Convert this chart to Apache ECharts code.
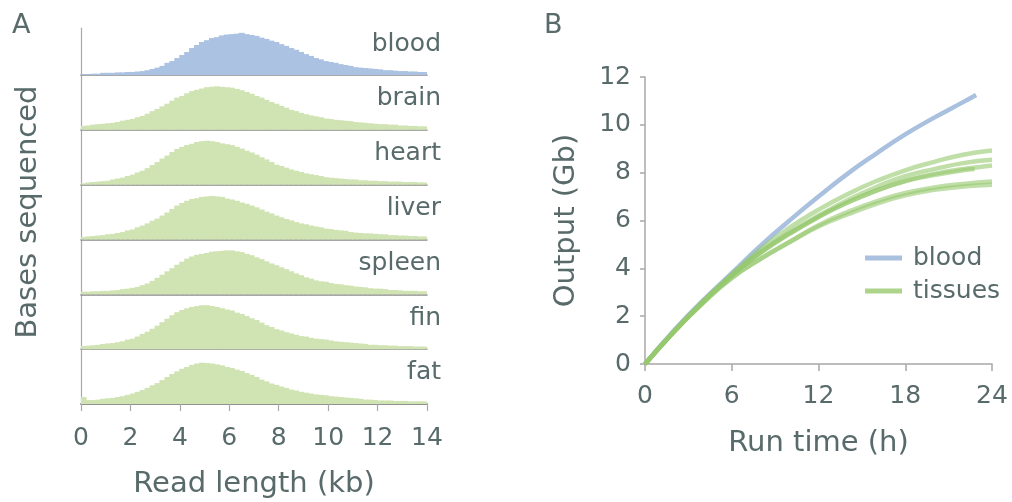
<!DOCTYPE html>
<html>
<head>
<meta charset="utf-8">
<script src="https://cdn.jsdelivr.net/npm/echarts@6/dist/echarts.min.js"></script>
<style>
  html, body { margin: 0; padding: 0; background: #fff; }
  #main { width: 1012px; height: 502px; }
</style>
</head>
<body>
<div id="main"></div>
<script>
// A: read length histograms, 0.2 kb bins from 0 to 14 kb, relative bases sequenced (peak ~100)
const tissueNames = ['blood', 'brain', 'heart', 'liver', 'spleen', 'fin', 'fat']
const bins = Array.from({ length: 70 }, (_, i) => (i * 0.2 + 0.1).toFixed(1))

const bloodHist = [2,2,3,3,5,5,5,6,6,7, 7,8,9,11,14,17,21,28,32,39, 46,53,62,69,76,80,85,87,91,93,
  94,95,97,94,92,90,86,83,79,76, 71,67,62,58,53,48,44,39,36,32, 30,28,25,23,21,18,17,16,15,14,
  13,11,11,10,9,9,8,8,7,7]
const brainHist = [9,10,12,13,14,15,16,18,21,23, 25,29,32,37,43,48,54,60,67,74, 78,84,89,92,95,98,99,100,99,98,
  97,94,91,87,83,78,74,69,64,60, 55,51,46,43,39,36,33,31,29,26, 25,23,22,21,20,18,17,16,15,14,
  13,13,12,12,10,10,9,9,8,8]
const heartHist = [3,5,6,7,8,9,12,14,16,20, 23,28,32,38,45,52,60,67,75,82, 87,91,94,98,100,101,100,98,95,93,
  91,87,83,78,74,69,63,58,52,46, 43,39,35,32,29,26,24,22,20,17, 16,15,14,13,12,12,10,10,9,9,
  8,8,7,7,7,6,6,6,5,5]
const liverHist = [6,7,8,9,10,12,13,15,17,21, 23,28,32,37,43,48,55,62,70,78, 84,89,93,95,98,99,100,99,98,94,
  92,89,85,82,78,74,69,64,60,55, 51,47,44,40,37,35,32,30,28,25, 24,22,21,20,17,16,15,14,14,13,
  12,12,10,10,9,9,8,8,7,7]
const spleenHist = [6,6,7,7,8,8,9,10,12,13, 15,17,21,25,31,38,45,53,60,68, 75,82,87,91,93,95,98,99,100,101,
  101,99,97,93,90,85,81,76,71,67, 62,58,53,48,44,39,36,32,30,29, 26,24,23,21,20,18,17,16,14,13,
  13,12,10,10,9,8,8,8,7,7]
const finHist = [7,8,9,10,12,13,14,16,18,22, 24,29,35,40,47,54,62,70,78,85, 90,94,97,99,101,101,99,97,94,91,
  89,84,81,76,71,67,61,55,51,46, 43,39,36,33,30,29,26,24,23,22, 20,18,17,16,15,14,13,12,10,10,
  9,9,8,8,7,7,7,6,6,6]
const fatHist = [16,9,9,10,12,13,14,16,18,21, 24,28,32,37,43,48,55,62,69,75, 81,85,90,93,95,94,93,91,89,85,
  83,79,76,71,67,62,56,52,47,44, 40,37,33,31,28,26,24,22,21,20, 18,17,16,15,14,13,12,10,10,9,
  8,8,8,7,7,7,6,6,6,6]
const histograms = [bloodHist, brainHist, heartHist, liverHist, spleenHist, finHist, fatHist]

// B: cumulative output (Gb) over run time (h)
const bloodHours = [0, 2, 4, 6, 8, 10, 12, 14, 16, 18, 20, 22, 22.9]
const bloodOutput = [0, 1.4, 2.65, 3.8, 4.95, 6.0, 7.0, 7.95, 8.8, 9.6, 10.3, 10.95, 11.25]
const tissueHours = [0, 2, 4, 6, 8, 10, 12, 14, 16, 18, 20, 22, 24]
const tissueEnd = [24, 24, 24, 22.8, 24, 24]
const tissueOutput = [
  [0, 1.35, 2.6, 3.75, 4.8, 5.7, 6.45, 7.1, 7.65, 8.1, 8.45, 8.75, 8.93],
  [0, 1.35, 2.6, 3.7, 4.7, 5.5, 6.2, 6.85, 7.4, 7.85, 8.15, 8.4, 8.54],
  [0, 1.35, 2.6, 3.7, 4.65, 5.45, 6.15, 6.75, 7.25, 7.65, 7.95, 8.15, 8.3],
  [0, 1.35, 2.6, 3.7, 4.65, 5.45, 6.15, 6.75, 7.25, 7.65, 7.9, 8.1, 8.15],
  [0, 1.35, 2.55, 3.6, 4.4, 5.1, 5.8, 6.35, 6.8, 7.15, 7.38, 7.53, 7.63],
  [0, 1.35, 2.55, 3.6, 4.4, 5.1, 5.75, 6.25, 6.7, 7.05, 7.28, 7.42, 7.49]
]

const font = 'DejaVu Sans'
const textColor = '#586a6a'
const axisGray = '#a8a8a8'
const baseGray = '#8a8a8a'
const blue = '#abc2e2'
const green = '#d0e3b2'

// layout of panel A rows
const rowTop = 28, firstBase = 75, rowStep = 54.83
const unitsPerPx = 2.3

let grid = [], xAxis = [], yAxis = [], series = []
let title = [
  { text: 'A', left: 12, top: 12, padding: 0, textStyle: { fontSize: 27, fontWeight: 'normal', color: textColor, fontFamily: font } },
  { text: 'B', left: 544, top: 12, padding: 0, textStyle: { fontSize: 27, fontWeight: 'normal', color: textColor, fontFamily: font } }
]

tissueNames.forEach((name, i) => {
  let bottom = firstBase + i * rowStep
  let top = i === 0 ? rowTop : bottom - rowStep
  let h = bottom - top
  let c = i === 0 ? blue : green
  grid.push({ left: 81, width: 346, top: top, height: h })
  xAxis.push({
    type: 'category', gridIndex: i, data: bins, boundaryGap: true,
    axisLine: { lineStyle: { color: baseGray, width: 1.5 } },
    axisTick: { show: false }, axisLabel: { show: false }
  })
  yAxis.push({
    type: 'value', gridIndex: i, min: 0, max: h * unitsPerPx,
    axisLine: { show: true, lineStyle: { color: axisGray, width: 1.2 } },
    axisTick: { show: false }, axisLabel: { show: false }, splitLine: { show: false },
    name: i === 3 ? 'Bases sequenced' : '', nameLocation: 'middle', nameGap: 38,
    nameTextStyle: { fontSize: 29, color: textColor, fontFamily: font }
  })
  series.push({
    type: 'bar', xAxisIndex: i, yAxisIndex: i, data: histograms[i],
    barWidth: '125%', silent: true,
    itemStyle: { color: c }
  })
  title.push({
    text: name, right: 571, top: bottom - 32 - 14, padding: 0,
    textStyle: { fontSize: 25, lineHeight: 30, fontWeight: 'normal', color: textColor, fontFamily: font }
  })
})

// tick axis under the bottom histogram
xAxis.push({
  type: 'value', gridIndex: 6, min: 0, max: 14, interval: 2, position: 'bottom',
  axisLine: { lineStyle: { color: baseGray, width: 1.5 } },
  axisTick: { length: 7, lineStyle: { color: axisGray, width: 1.2 } },
  axisLabel: { margin: 22, fontSize: 25, color: textColor, fontFamily: font },
  splitLine: { show: false },
  name: 'Read length (kb)', nameLocation: 'middle', nameGap: 66,
  nameTextStyle: { fontSize: 29, color: textColor, fontFamily: font }
})

// panel B
grid.push({ left: 645, width: 347, top: 77, height: 287 })
let bIdx = grid.length - 1
xAxis.push({
  type: 'value', gridIndex: bIdx, min: 0, max: 24, interval: 6,
  axisLine: { lineStyle: { color: axisGray, width: 1.5 } },
  axisTick: { length: 7, lineStyle: { color: axisGray, width: 1.5 } },
  axisLabel: { margin: 20, fontSize: 25, color: textColor, fontFamily: font },
  splitLine: { show: false },
  name: 'Run time (h)', nameLocation: 'middle', nameGap: 65,
  nameTextStyle: { fontSize: 29, color: textColor, fontFamily: font }
})
yAxis.push({
  type: 'value', gridIndex: bIdx, min: 0, max: 12, interval: 2,
  axisLine: { show: true, lineStyle: { color: axisGray, width: 1.5 } },
  axisTick: { show: true, length: 5, lineStyle: { color: axisGray, width: 1.5 } },
  axisLabel: { margin: 14, fontSize: 25, color: textColor, fontFamily: font },
  splitLine: { show: false },
  name: 'Output (Gb)', nameLocation: 'middle', nameGap: 64,
  nameTextStyle: { fontSize: 29, color: textColor, fontFamily: font }
})
let bx = xAxis.length - 1, by = yAxis.length - 1

series.push({
  name: 'blood', type: 'line', xAxisIndex: bx, yAxisIndex: by, smooth: true,
  showSymbol: false, silent: true,
  data: bloodOutput.map((v, j) => [bloodHours[j], v]),
  itemStyle: { color: '#a9c0df' },
  lineStyle: { width: 4.5, color: '#a9c0df' }
})
tissueOutput.forEach((vals, k) => {
  series.push({
    name: 'tissues', type: 'line', xAxisIndex: bx, yAxisIndex: by, smooth: true,
    showSymbol: false, silent: true,
    data: vals.map((v, j) => [j === vals.length - 1 ? tissueEnd[k] : tissueHours[j], v]),
    itemStyle: { color: 'rgba(160,205,120,0.85)' },
    lineStyle: { width: 4.5, color: 'rgba(150,200,110,0.6)' }
  })
})

let chart = echarts.init(document.getElementById('main'), null, { renderer: 'canvas' })
chart.setOption({
  animation: false,
  backgroundColor: '#fff',
  title: title,
  legend: {
    data: ['blood', 'tissues'], orient: 'vertical', left: 860, top: 240,
    icon: 'rect', itemWidth: 37, itemHeight: 5, itemGap: 7,
    textStyle: { fontSize: 25, lineHeight: 26, color: textColor, fontFamily: font, padding: [0, 0, 0, 6] }
  },
  grid: grid,
  xAxis: xAxis,
  yAxis: yAxis,
  series: series
})
</script>
</body>
</html>
